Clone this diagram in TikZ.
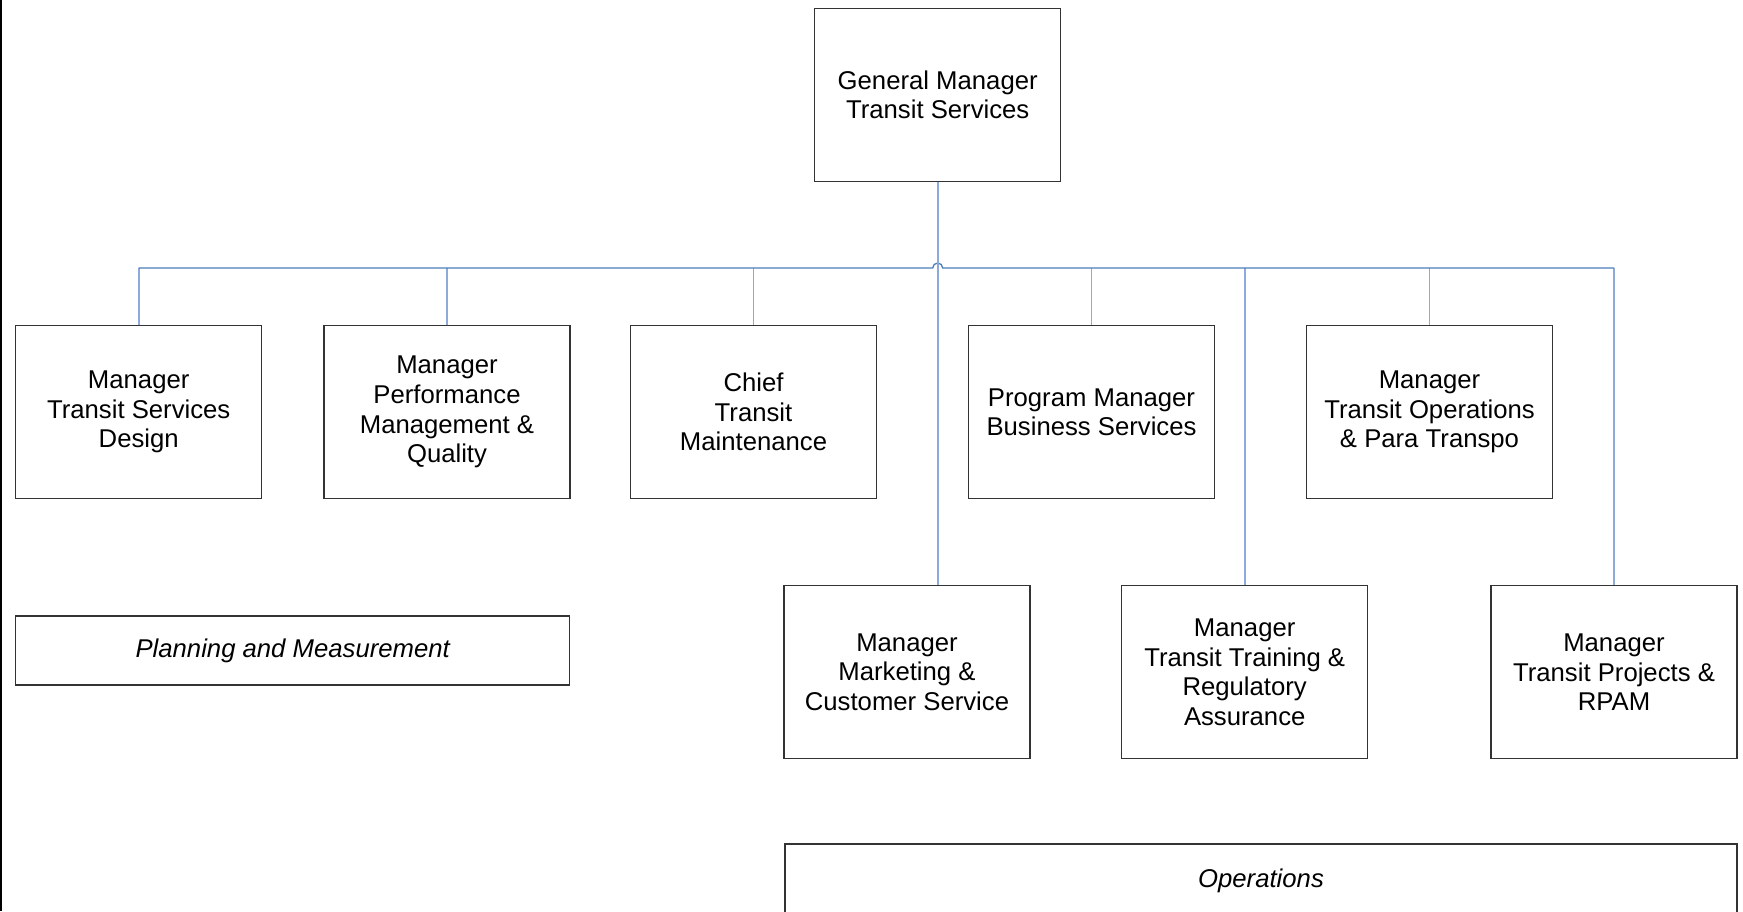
\documentclass[tikz,border=0pt]{standalone}
\usepackage{fontspec}
\setmainfont{Liberation Sans}
\definecolor{boxline}{HTML}{333333}
\definecolor{busblue}{HTML}{4A7EBB}
\definecolor{dropblue}{HTML}{8EAADB}
\begin{document}
\begin{tikzpicture}[x=1pt,y=-1pt,
  orgbox/.style={draw=boxline, line width=1.3pt, rectangle, inner sep=0pt,
    minimum width=246pt, minimum height=173pt, align=center,
    font=\fontsize{25.7}{29.6}\selectfont},
  areabox/.style={draw=boxline, line width=1.3pt, rectangle, inner sep=0pt,
    align=center, font=\fontsize{25.7}{29.6}\selectfont\itshape},
  bus/.style={draw=busblue, line width=1.3pt},
  drop/.style={draw=dropblue, line width=1.8pt}]
\useasboundingbox (0,0) rectangle (1743,911);
\fill[white] (0,0) rectangle (1743,911);
\fill[black] (0,0) rectangle (2.2,911);

\node[orgbox] (gm) at (937.7,95) {General Manager\\Transit Services};

\node[orgbox] (b1) at (138.7,412.2) {Manager\\Transit Services\\Design};
\node[orgbox] (b2) at (447,412.2) {Manager\\Performance\\Management \&\\Quality};
\node[orgbox] (b3) at (753.5,412.2) {Chief\\Transit\\Maintenance};
\node[orgbox] (b4) at (1091.5,412.2) {Program Manager\\Business Services};
\node[orgbox] (b5) at (1429.5,412.2) {Manager\\Transit Operations\\\& Para Transpo};

\node[orgbox] (mkt) at (907,672.2) {Manager\\Marketing \&\\Customer Service};
\node[orgbox] (trn) at (1244.7,672.2) {Manager\\Transit Training \&\\Regulatory\\Assurance};
\node[orgbox] (prj) at (1614,672.2) {Manager\\Transit Projects \&\\RPAM};

\node[areabox, minimum width=554pt, minimum height=69pt] (plan) at (292.7,650.5) {Planning and Measurement};
\node[areabox, minimum width=952pt, minimum height=74pt] (ops) at (1261,881) {Operations};

\coordinate (busy) at (0,268);

% drops from the bus
\foreach \n in {b1,b2,b3,b4,b5,trn,prj}
  \draw[drop] (\n.north) -- (\n.north |- busy);
% horizontal bus with a hop over the GM line
\draw[bus] (b1.north |- busy) -- ([xshift=-5pt]gm.south |- busy)
  arc (180:360:5) -- (prj.north |- busy);
% GM line straight down to the marketing box
\draw[drop] (gm.south) -- (gm.south |- mkt.north);
\end{tikzpicture}
\end{document}
